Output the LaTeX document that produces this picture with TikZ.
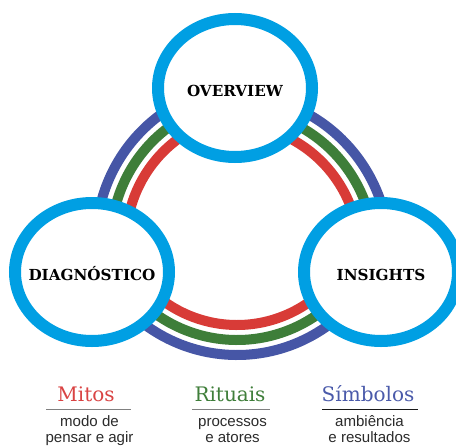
\documentclass[tikz,border=0pt]{standalone}
\usepackage{fontspec}
\setmainfont{DejaVu Serif}
\newfontfamily\notefont{Liberation Sans}
\usetikzlibrary{shapes.geometric}

\definecolor{ringcyan}{HTML}{009FE3}
\definecolor{bandred}{HTML}{D83B37}
\definecolor{bandgreen}{HTML}{3E7E39}
\definecolor{bandblue}{HTML}{4656A6}
\definecolor{titlered}{HTML}{D94343}
\definecolor{titlegreen}{HTML}{3F7E3A}
\definecolor{titleblue}{HTML}{4A5AAA}
\definecolor{notegray}{HTML}{2B2B2B}

\begin{document}
\begin{tikzpicture}[x=0.75pt,y=-0.75pt,
  band/.style={line width=7.5pt},
  stage/.style={ellipse, draw=ringcyan, fill=white, line width=9pt,
    minimum width=115.5pt, minimum height=103.5pt, inner sep=0pt},
  stagetext/.style={font=\fontsize{11.4}{12}\selectfont\bfseries,
    text height=12pt, text depth=0pt, inner sep=0pt},
  title/.style={anchor=base, font=\fontsize{15}{18}\selectfont},
  note/.style={anchor=base, align=center, text=notegray, inner sep=0pt,
    font=\notefont\fontsize{11.3}{12}\selectfont},
  rule/.style={line width=1pt}]

\useasboundingbox (0,0) rectangle (456,446);
\clip (0,0) rectangle (456,446);

% centres of the three band arcs
\coordinate (arcL) at (254,242);
\coordinate (arcR) at (231,252);
\coordinate (arcB) at (237,200);

% upper left bands
\draw[band, bandred]   (arcL) ++(185:128) arc[start angle=185, end angle=240, radius=128];
\draw[band, bandgreen] (arcL) ++(185:143) arc[start angle=185, end angle=240, radius=143];
\draw[band, bandblue]  (arcL) ++(185:158) arc[start angle=185, end angle=240, radius=158];

% upper right bands
\draw[band, bandred]   (arcR) ++(-70:128) arc[start angle=-70, end angle=-10, radius=128];
\draw[band, bandgreen] (arcR) ++(-70:143) arc[start angle=-70, end angle=-10, radius=143];
\draw[band, bandblue]  (arcR) ++(-70:158) arc[start angle=-70, end angle=-10, radius=158];

% bottom bands
\draw[band, bandred]   (arcB) ++(40:125) arc[start angle=40, end angle=140, radius=125];
\draw[band, bandgreen] (arcB) ++(40:140) arc[start angle=40, end angle=140, radius=140];
\draw[band, bandblue]  (arcB) ++(40:155) arc[start angle=40, end angle=140, radius=155];

% the three stages
\node[stage, label={[stagetext]center:OVERVIEW}] (overview) at (235,88) {};
\node[stage, label={[stagetext]center:DIAGNÓSTICO}] (diag) at (92,272) {};
\node[stage, label={[stagetext]center:INSIGHTS}] (insights) at (381,272) {};

% legend
\node[title, text=titlered]   (mitos)    at (86,401)  {Mitos};
\node[title, text=titlegreen] (rituais)  at (230,401) {Rituais};
\node[title, text=titleblue]  (simbolos) at (368,401) {Símbolos};

\draw[rule, black!50] (46,409.3) -- (131,409.3);
\draw[rule, black!50] (192,409.3) -- (270,409.3);
\draw[rule, black!90] (322,409.3) -- (418,409.3);

% the base anchor of these two-line notes sits on their last line
\node[note] (mitosnote)    at (89.5,442.7)  {modo de\\pensar e agir};
\node[note] (rituaisnote)  at (232.5,442.7) {processos\\e atores};
\node[note] (simbolosnote) at (369.5,442.7) {ambiência\\e resultados};

\end{tikzpicture}
\end{document}
